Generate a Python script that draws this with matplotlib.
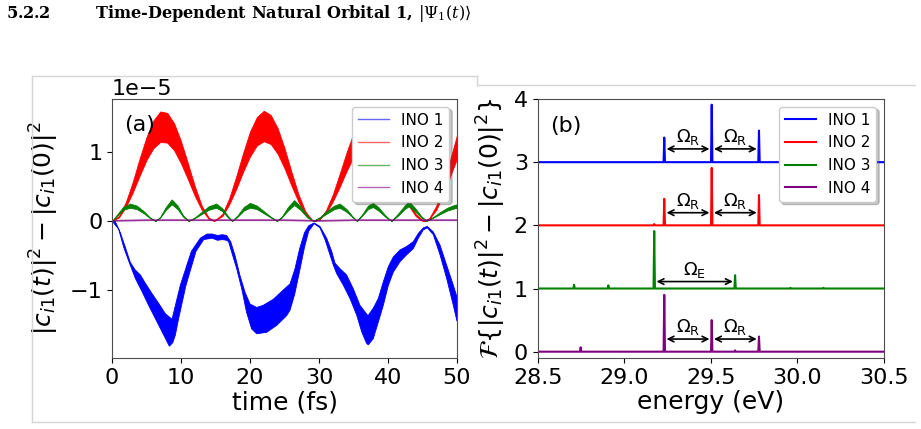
import numpy as np
import matplotlib
matplotlib.use("Agg")
import matplotlib.pyplot as plt
from matplotlib.lines import Line2D

# ---- panel (a): envelopes of the fast oscillating populations (units of 1e-5)
red_t = [0, 1, 2, 3, 4, 5, 6, 7, 8, 9, 10, 11, 12, 13, 14, 14.8, 16, 17, 18, 19, 20, 21, 22, 23, 24,
         25, 26, 27, 28, 29, 29.4, 30, 31, 32, 33, 34, 35, 36, 37, 38, 39, 40, 41, 42, 43, 44, 45,
         45.3, 46, 47, 48, 49, 50]
red_hi = [0, .07, .27, .56, .90, 1.21, 1.45, 1.58, 1.56, 1.41, 1.15, .83, .50, .22, .05, 0,
          .10, .33, .64, .98, 1.29, 1.50, 1.59, 1.53, 1.34, 1.05, .71, .39, .14, .01, 0,
          .02, .15, .38, .68, .99, 1.27, 1.48, 1.58, 1.56, 1.43, 1.19, .90, .58, .31, .10, .01, 0,
          .04, .22, .52, .88, 1.24]
red_lo = [0, .05, .20, .41, .65, .88, 1.05, 1.14, 1.13, 1.02, .83, .60, .36, .16, .03, 0,
          .07, .24, .46, .71, .93, 1.09, 1.15, 1.11, .97, .76, .51, .28, .10, .01, 0,
          .02, .11, .28, .49, .72, .92, 1.07, 1.14, 1.13, 1.03, .86, .65, .42, .22, .07, 0, 0,
          .03, .16, .38, .64, .90]

green_t = [0, 0.8, 1.6, 2.6, 3.6, 4.6, 5.5, 6.3, 7.0, 7.8, 8.65, 9.5, 10.3, 11.1, 12.0, 13.0, 14.0,
           15.1, 16.0, 16.8, 17.4, 18.2, 19.1, 20.0, 21.0, 22.0, 23.0, 23.9, 24.6, 25.5, 26.4, 27.3,
           28.3, 29.2, 30.2, 31.2, 32.2, 33.0, 34.0, 34.9, 35.5, 36.3, 37.1, 37.8, 38.6, 39.6, 40.5,
           41.5, 42.4, 43.0, 43.8, 44.8, 45.6, 46.6, 47.6, 48.6, 49.6, 50.0]
green_hi = [0, .10, .20, .25, .22, .14, .05, 0, .06, .20, .31, .22, .08, 0, .05, .13, .21, .25, .18,
            .07, 0, .08, .20, .26, .22, .14, .06, 0, .06, .20, .30, .21, .07, 0, .06, .15, .22, .25,
            .17, .06, 0, .10, .22, .26, .20, .08, 0, .11, .22, .28, .20, .07, 0, .06, .13, .19, .23, .24]
green_lo = [0, .08, .16, .19, .17, .11, .04, 0, .05, .16, .24, .17, .06, 0, .04, .10, .16, .19, .14,
            .05, 0, .06, .15, .19, .17, .11, .05, 0, .05, .15, .23, .16, .05, 0, .05, .11, .17, .19,
            .13, .05, 0, .08, .17, .20, .15, .06, 0, .08, .17, .21, .15, .05, 0, .05, .10, .15, .18, .19]

blue_t_hi = [0, 0.48, 1.21, 1.93, 2.66, 3.38, 4.11, 4.83, 5.80, 6.76, 7.73, 8.7, 9.90, 11.5, 12.8,
             13.77, 14.5, 15.3, 16.0, 16.6, 17.2, 17.83, 18.55, 19.28, 20.0, 20.97, 21.9, 23.4, 24.8,
             25.8, 26.5, 27.2, 27.9, 28.5, 29.3, 30.14, 31.11, 31.84, 32.32, 33.04, 34.0, 34.97,
             35.94, 37.1, 37.87, 38.6, 39.32, 40.05, 40.77, 41.74, 42.7, 43.67, 44.4, 45.12, 45.7,
             46.57, 47.54, 48.5, 49.47, 50]
blue_hi = [0, -0.01, -0.17, -0.38, -0.60, -0.71, -0.78, -0.90, -1.05, -1.19, -1.34, -1.42, -0.93,
           -0.44, -0.25, -0.19, -0.19, -0.21, -0.20, -0.21, -0.30, -0.50, -0.79, -1.03, -1.20, -1.25,
           -1.22, -1.13, -1.00, -0.91, -0.70, -0.40, -0.17, -0.07, -0.03, -0.08, -0.25, -0.44, -0.61,
           -0.69, -0.78, -0.98, -1.22, -1.37, -1.26, -1.12, -0.88, -0.66, -0.52, -0.42, -0.37, -0.30,
           -0.18, -0.10, -0.08, -0.16, -0.35, -0.64, -0.93, -1.10]
blue_t_lo = [0, 0.97, 1.69, 2.42, 3.38, 4.35, 5.31, 6.28, 7.25, 8.31, 8.8, 9.18, 9.66, 10.72, 12.17,
             13.29, 14.5, 15.3, 16.0, 16.6, 16.9, 17.34, 18.07, 18.8, 19.5, 20.24, 20.97, 22.4, 23.86,
             25.3, 25.8, 26.5, 27.2, 27.9, 28.5, 29.3, 30.14, 30.87, 31.59, 32.08, 32.56, 33.53,
             34.49, 35.46, 36.18, 36.9, 37.15, 37.87, 38.6, 39.32, 40.05, 40.77, 41.74, 42.7, 43.67,
             44.4, 45.12, 45.7, 46.57, 47.54, 48.5, 49.47, 50]
blue_lo = [0, -0.12, -0.38, -0.58, -0.83, -1.02, -1.22, -1.41, -1.60, -1.81, -1.76, -1.65, -1.41,
           -0.93, -0.44, -0.27, -0.25, -0.28, -0.27, -0.28, -0.30, -0.45, -0.69, -0.98, -1.32, -1.56,
           -1.63, -1.61, -1.51, -1.37, -1.29, -1.05, -0.72, -0.38, -0.15, -0.04, -0.10, -0.27, -0.49,
           -0.64, -0.76, -0.93, -1.12, -1.36, -1.60, -1.77, -1.79, -1.70, -1.46, -1.22, -0.93, -0.74,
           -0.59, -0.49, -0.40, -0.25, -0.13, -0.10, -0.20, -0.49, -0.83, -1.22, -1.45]

purple_t = [0, 5, 10, 15, 20, 25, 30, 35, 40, 45, 50]
purple_v = [0, .01, .01, .01, .01, .01, 0, .01, .01, .01, .01]

# ---- panel (b): spectral lines (energy in eV, height above the offset baseline)
ino1_E = [29.231, 29.505, 29.778]
ino1_h = [0.39, 0.91, 0.50]
ino2_E = [29.173, 29.231, 29.505, 29.778]
ino2_h = [0.02, 0.42, 0.91, 0.48]
ino3_E = [28.71, 28.908, 29.173, 29.64, 29.96, 30.15]
ino3_h = [0.06, 0.05, 0.91, 0.21, 0.01, 0.01]
ino4_E = [28.748, 29.231, 29.505, 29.64, 29.778]
ino4_h = [0.07, 0.90, 0.50, 0.02, 0.24]
offsets = [3, 2, 1, 0]

labels = ['INO 1', 'INO 2', 'INO 3', 'INO 4']
colors = ['blue', 'red', 'green', 'purple']

W, H = 921, 429
fig = plt.figure(figsize=(W / 100, H / 100), dpi=100)

# page decorations (image frames and section heading)
frame = dict(transform=fig.transFigure, color='0.84', lw=1)
for xs, ys in [([31.5, 31.5], [75.5, 421.7]), ([31.5, 477], [75.5, 75.5]),
               ([477, 477], [75.5, 85]), ([477, 915], [85, 85]), ([31.5, 915], [421.7, 421.7])]:
    fig.add_artist(Line2D([x / W for x in xs], [1 - y / H for y in ys], **frame))

fig.text(6 / W, 1 - 18 / H,
         '5.2.2        Time-Dependent Natural Orbital 1, ' + r'$|\Psi_1(t)\rangle$',
         fontsize=11.6, family='DejaVu Serif', weight='bold', math_fontfamily='dejavuserif',
         va='baseline')

ax1 = fig.add_axes([112 / W, 71 / H, 345 / W, 259 / H])
ax2 = fig.add_axes([537.7 / W, 71 / H, 346.3 / W, 259 / H])

s = 1e-5
ax1.fill(np.r_[blue_t_hi, blue_t_lo[::-1]], np.r_[blue_hi, blue_lo[::-1]] * s,
         color='blue', lw=0.6)
ax1.fill_between(red_t, np.array(red_lo) * s, np.array(red_hi) * s, color='red', lw=0.6)
ax1.fill_between(green_t, np.array(green_lo) * s, np.array(green_hi) * s, color='green', lw=0.6)
ax1.plot(purple_t, np.array(purple_v) * s, color='purple', lw=1.3, alpha=0.8)
ax1.set_xlim(0, 50)
ax1.set_xticks([0, 10, 20, 30, 40, 50])
ax1.set_xlabel('time (fs)', fontsize=18, labelpad=2)
ax1.set_ylabel(r'$|c_{i1}(t)|^2 - |c_{i1}(0)|^2$', fontsize=18, labelpad=6)
ax1.text(0.035, 0.90, '(a)', transform=ax1.transAxes, fontsize=16, va='center')
h1 = [Line2D([], [], color=c, lw=1, alpha=0.6) for c in colors]
ax1.legend(h1, labels, loc='upper right', fontsize=11, shadow={'alpha': 0.3})

for E, hts, base, c, lab in zip([ino1_E, ino2_E, ino3_E, ino4_E], [ino1_h, ino2_h, ino3_h, ino4_h],
                                offsets, colors, labels):
    xs, ys = [28.5], [base]
    for e, h in zip(E, hts):
        xs += [e - 0.004, e, e + 0.004]
        ys += [base, base + h, base]
    xs.append(30.5)
    ys.append(base)
    ax2.plot(xs, ys, color=c, lw=1.5, label=lab)

# Rabi / exchange splittings between neighbouring lines
def splitting(ax, e0, e1, y, txt, gap=0.013):
    ax.annotate('', xy=(e1 - gap, y), xytext=(e0 + gap, y),
                arrowprops=dict(arrowstyle='<->', color='k', lw=1.2, shrinkA=0, shrinkB=0))
    ax.text((e0 + e1) / 2, y + 0.03, txt, ha='center', va='bottom', fontsize=13)

for ya in [3.21, 2.20, 0.20]:
    splitting(ax2, ino1_E[0], ino1_E[1], ya, r'$\Omega_{\mathrm{R}}$')
    splitting(ax2, ino1_E[1], ino1_E[2], ya, r'$\Omega_{\mathrm{R}}$')
splitting(ax2, ino3_E[2], ino3_E[3], 1.11, r'$\Omega_{\mathrm{E}}$')

ax2.set_xlim(28.5, 30.5)
ax2.set_ylim(-0.1, 4)
ax2.set_xticks([28.5, 29.0, 29.5, 30.0, 30.5])
ax2.set_yticks([0, 1, 2, 3, 4])
ax2.set_xlabel('energy (eV)', fontsize=18, labelpad=2)
ax2.set_ylabel(r'$\mathcal{F}\{|c_{i1}(t)|^2 - |c_{i1}(0)|^2\}$', fontsize=18, labelpad=4)
ax2.text(0.037, 0.895, '(b)', transform=ax2.transAxes, fontsize=16, va='center')
ax2.legend(loc='upper right', fontsize=11, shadow={'alpha': 0.3})

for ax in (ax1, ax2):
    ax.tick_params(labelsize=16)
    for sp in ax.spines.values():
        sp.set_color('0.3')
ax1.yaxis.get_offset_text().set_fontsize(16)

fig.savefig('out.png', dpi=100)
